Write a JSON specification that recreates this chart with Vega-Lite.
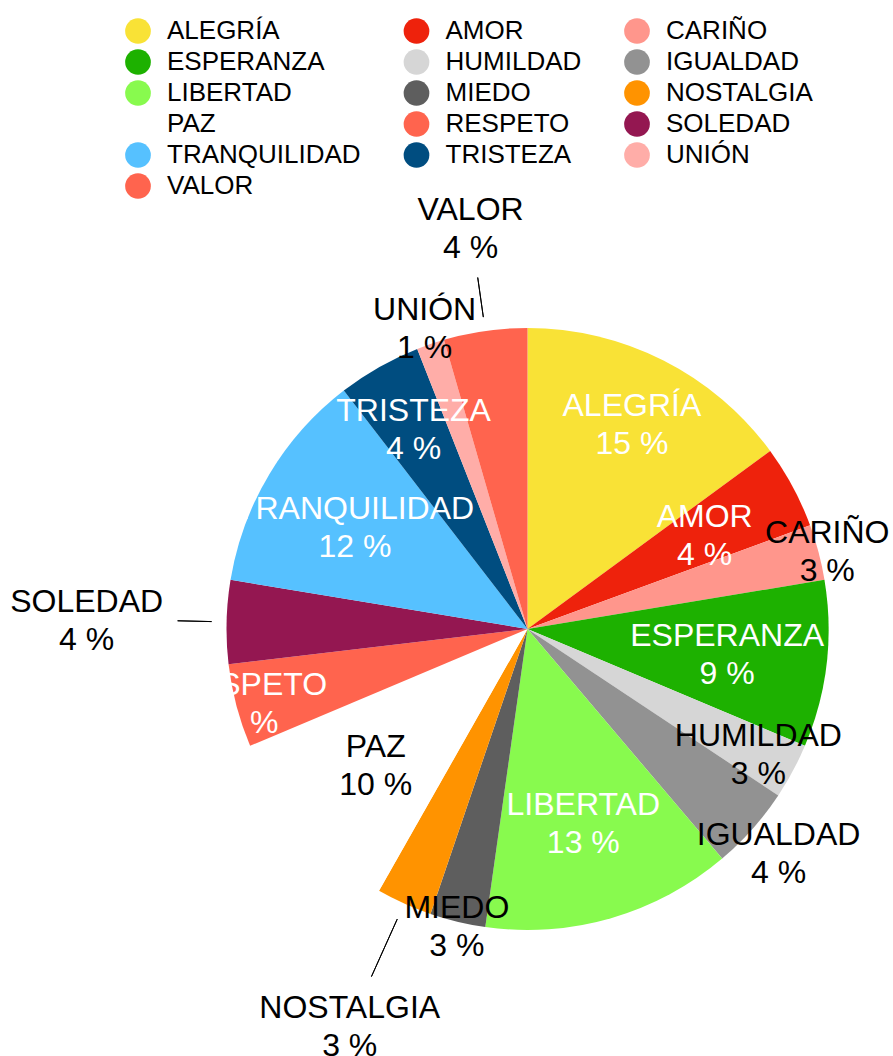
{
  "$schema": "https://vega.github.io/schema/vega-lite/v6.json",
  "width": 731,
  "height": 854,
  "autosize": {"type": "none"},
  "padding": {"left": 162, "top": 202, "right": 0, "bottom": 0},
  "background": "white",
  "config": {
    "view": {"stroke": null},
    "font": "Liberation Sans",
    "text": {"font": "Liberation Sans", "fontSize": 32, "lineBreak": "\n", "lineHeight": 38, "align": "center", "baseline": "middle", "dy": -17}
  },
  "data": {
    "values": [
      {"emocion": "ALEGRÍA", "n": 10},
      {"emocion": "AMOR", "n": 3},
      {"emocion": "CARIÑO", "n": 2},
      {"emocion": "ESPERANZA", "n": 6},
      {"emocion": "HUMILDAD", "n": 2},
      {"emocion": "IGUALDAD", "n": 3},
      {"emocion": "LIBERTAD", "n": 9},
      {"emocion": "MIEDO", "n": 2},
      {"emocion": "NOSTALGIA", "n": 2},
      {"emocion": "PAZ", "n": 7},
      {"emocion": "RESPETO", "n": 3},
      {"emocion": "SOLEDAD", "n": 3},
      {"emocion": "TRANQUILIDAD", "n": 8},
      {"emocion": "TRISTEZA", "n": 3},
      {"emocion": "UNIÓN", "n": 1},
      {"emocion": "VALOR", "n": 3}
    ]
  },
  "transform": [
    {"stack": "n", "groupby": [], "sort": [{"field": "emocion", "order": "ascending"}], "as": ["v0", "v1"]},
    {"joinaggregate": [{"op": "sum", "field": "n", "as": "total"}]},
    {"calculate": "(datum.v0 + datum.v1) / 2", "as": "mid"},
    {"calculate": "datum.emocion + '\\n' + round(100 * datum.n / datum.total) + ' %'", "as": "etiqueta"}
  ],
  "layer": [
    {
      "mark": {"type": "arc", "radius": 301},
      "encoding": {
        "theta": {"field": "v0", "type": "quantitative", "scale": {"domain": [0, 67]}},
        "theta2": {"field": "v1"},
        "color": {
          "field": "emocion",
          "type": "nominal",
          "scale": {
            "domain": ["ALEGRÍA", "AMOR", "CARIÑO", "ESPERANZA", "HUMILDAD", "IGUALDAD", "LIBERTAD", "MIEDO", "NOSTALGIA", "PAZ", "RESPETO", "SOLEDAD", "TRANQUILIDAD", "TRISTEZA", "UNIÓN", "VALOR"],
            "range": ["#F9E236", "#EE220C", "#FF968C", "#1DB100", "#D6D6D6", "#929292", "#88FA4E", "#5E5E5E", "#FF9300", "#FFFFFF", "#FF644E", "#941751", "#56C1FF", "#004D80", "#FFADA8", "#FF644E"]
          },
          "legend": {
            "title": null,
            "orient": "none",
            "direction": "horizontal",
            "legendX": -37,
            "legendY": -184,
            "columns": 3,
            "columnPadding": 42.5,
            "rowPadding": 5,
            "symbolType": "circle",
            "symbolSize": 660,
            "symbolStrokeWidth": 0,
            "labelFont": "Liberation Sans",
            "labelFontSize": 26,
            "labelOffset": 16,
            "labelColor": "#000000",
            "labelLimit": 400,
            "padding": 0
          }
        }
      }
    },
    {
      "transform": [{"filter": "datum.emocion === 'VALOR'"}],
      "mark": {"type": "arc", "radius": 355, "radius2": 315, "stroke": "#000000", "strokeWidth": 1, "fill": null},
      "encoding": {"theta": {"field": "mid", "type": "quantitative"}, "theta2": {"field": "mid"}}
    },
    {
      "transform": [{"filter": "datum.emocion === 'SOLEDAD'"}],
      "mark": {"type": "arc", "radius": 350, "radius2": 316, "stroke": "#000000", "strokeWidth": 1, "fill": null},
      "encoding": {"theta": {"field": "mid", "type": "quantitative"}, "theta2": {"field": "mid"}}
    },
    {
      "transform": [{"filter": "datum.emocion === 'NOSTALGIA'"}],
      "mark": {"type": "arc", "radius": 381, "radius2": 318, "stroke": "#000000", "strokeWidth": 1, "fill": null},
      "encoding": {"theta": {"field": "mid", "type": "quantitative"}, "theta2": {"field": "mid"}}
    },
    {
      "encoding": {
        "theta": {"field": "mid", "type": "quantitative", "stack": null},
        "text": {"field": "etiqueta", "type": "nominal"}
      },
      "layer": [
        {"transform": [{"filter": {"field": "emocion", "oneOf": ["AMOR", "ESPERANZA", "LIBERTAD", "TRANQUILIDAD"]}}], "mark": {"type": "text", "radius": 201, "fill": "#FFFFFF"}},
        {"transform": [{"filter": {"field": "emocion", "oneOf": ["PAZ"]}}], "mark": {"type": "text", "radius": 203, "fill": "#000000"}},
        {"transform": [{"filter": {"field": "emocion", "oneOf": ["ALEGRÍA", "TRISTEZA"]}}], "mark": {"type": "text", "radius": 231, "fill": "#FFFFFF"}},
        {"transform": [{"filter": {"field": "emocion", "oneOf": ["RESPETO"]}}], "mark": {"type": "text", "radius": 286, "fill": "#FFFFFF"}},
        {"transform": [{"filter": {"field": "emocion", "oneOf": ["HUMILDAD"]}}], "mark": {"type": "text", "radius": 262, "fill": "#000000"}},
        {"transform": [{"filter": {"field": "emocion", "oneOf": ["CARIÑO"]}}], "mark": {"type": "text", "radius": 310, "fill": "#000000"}},
        {"transform": [{"filter": {"field": "emocion", "oneOf": ["MIEDO"]}}], "mark": {"type": "text", "radius": 304, "fill": "#000000"}},
        {"transform": [{"filter": {"field": "emocion", "oneOf": ["UNIÓN"]}}], "mark": {"type": "text", "radius": 319, "fill": "#000000"}},
        {"transform": [{"filter": {"field": "emocion", "oneOf": ["IGUALDAD"]}}], "mark": {"type": "text", "radius": 336, "fill": "#000000"}},
        {"transform": [{"filter": {"field": "emocion", "oneOf": ["VALOR"]}}], "mark": {"type": "text", "radius": 406, "fill": "#000000"}},
        {"transform": [{"filter": {"field": "emocion", "oneOf": ["NOSTALGIA"]}}], "mark": {"type": "text", "radius": 434, "fill": "#000000"}},
        {"transform": [{"filter": {"field": "emocion", "oneOf": ["SOLEDAD"]}}], "mark": {"type": "text", "radius": 441, "fill": "#000000"}}
      ]
    }
  ]
}
